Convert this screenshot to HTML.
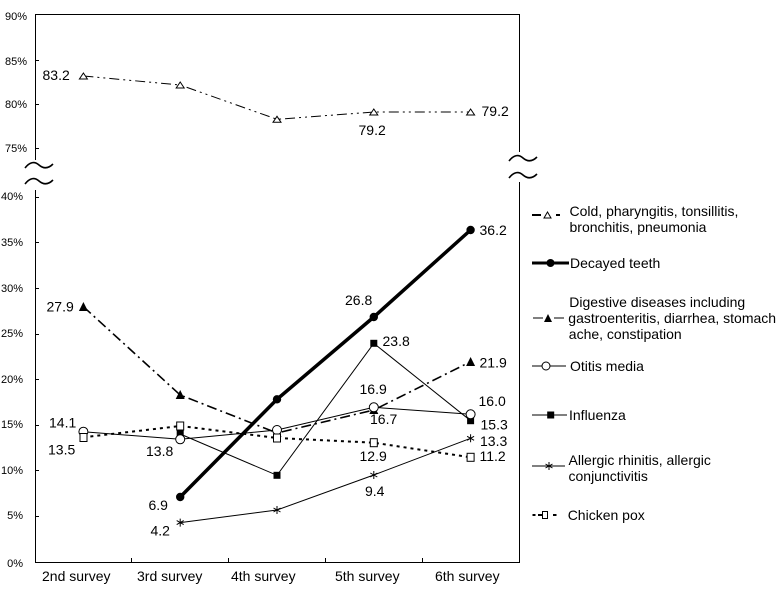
<!DOCTYPE html>
<html><head><meta charset="utf-8"><style>
html,body{margin:0;padding:0;background:#fff;}
svg{display:block;}
text{font-family:"Liberation Sans",Arial,sans-serif;fill:#000;}
</style></head><body>
<svg width="779" height="589" viewBox="0 0 779 589" xmlns="http://www.w3.org/2000/svg">
<rect width="779" height="589" fill="#fff"/>
<!-- frame -->
<g stroke="#000" stroke-width="1" fill="none" shape-rendering="crispEdges">
<line x1="35" y1="14.5" x2="519" y2="14.5"/>
<line x1="35.5" y1="14" x2="35.5" y2="160"/>
<line x1="35.5" y1="190" x2="35.5" y2="562"/>
<line x1="519.5" y1="14" x2="519.5" y2="152"/>
<line x1="519.5" y1="182" x2="519.5" y2="562"/>
<line x1="35" y1="562.5" x2="520" y2="562.5"/>
<!-- y ticks upper -->
<line x1="35" y1="60.5" x2="39" y2="60.5"/>
<line x1="35" y1="104.5" x2="39" y2="104.5"/>
<line x1="35" y1="148.5" x2="39" y2="148.5"/>
<!-- y ticks lower -->
<line x1="35" y1="197.5" x2="39" y2="197.5"/>
<line x1="35" y1="242.5" x2="39" y2="242.5"/>
<line x1="35" y1="288.5" x2="39" y2="288.5"/>
<line x1="35" y1="334.5" x2="39" y2="334.5"/>
<line x1="35" y1="379.5" x2="39" y2="379.5"/>
<line x1="35" y1="425.5" x2="39" y2="425.5"/>
<line x1="35" y1="470.5" x2="39" y2="470.5"/>
<line x1="35" y1="516.5" x2="39" y2="516.5"/>
<!-- x ticks -->
<line x1="131.5" y1="558" x2="131.5" y2="562"/>
<line x1="228.5" y1="558" x2="228.5" y2="562"/>
<line x1="325.5" y1="558" x2="325.5" y2="562"/>
<line x1="422.5" y1="558" x2="422.5" y2="562"/>
</g>
<!-- break marks -->
<g stroke="#000" stroke-width="1.6" fill="none">
<path d="M25,168 Q32,159 39,165 T53,164"/>
<path d="M25,184 Q32,175 39,181 T53,180"/>
<path d="M509,161 Q516,152 523,158 T537,157"/>
<path d="M509,178 Q516,169 523,175 T537,174"/>
</g>
<!-- y labels -->
<g font-size="11" text-anchor="end" dominant-baseline="central">
<text x="27" y="17">90%</text>
<text x="27" y="62">85%</text>
<text x="27" y="105">80%</text>
<text x="27" y="149">75%</text>
<text x="23" y="197">40%</text>
<text x="23" y="243">35%</text>
<text x="23" y="289">30%</text>
<text x="23" y="334">25%</text>
<text x="23" y="380">20%</text>
<text x="23" y="425">15%</text>
<text x="23" y="471">10%</text>
<text x="23" y="516">5%</text>
<text x="23" y="564">0%</text>
</g>
<!-- x labels -->
<g font-size="14" dominant-baseline="central">
<text x="42" y="576">2nd survey</text>
<text x="137" y="576">3rd survey</text>
<text x="231" y="576">4th survey</text>
<text x="335" y="576">5th survey</text>
<text x="435" y="576">6th survey</text>
</g>

<!-- Cold -->
<polyline points="83.4,76 180.2,85 277,119.3 373.8,112 470.6,112" fill="none" stroke="#000" stroke-width="1" stroke-dasharray="10 4 2 4 2 4"/>
<g fill="#fff" stroke="#000" stroke-width="1">
<path d="M79.4,79 L87.4,79 L83.4,73 Z"/>
<path d="M176.2,88 L184.2,88 L180.2,82 Z"/>
<path d="M273,122.3 L281,122.3 L277,116.3 Z"/>
<path d="M369.8,115 L377.8,115 L373.8,109 Z"/>
<path d="M466.6,115 L474.6,115 L470.6,109 Z"/>
</g>

<!-- Decayed teeth -->
<polyline points="180.2,497 277,399.3 373.8,317 470.6,230" fill="none" stroke="#000" stroke-width="3.5"/>
<g fill="#000">
<circle cx="180.2" cy="497" r="4.2"/>
<circle cx="277" cy="399.3" r="4.2"/>
<circle cx="373.8" cy="317" r="4.2"/>
<circle cx="470.6" cy="230" r="4.2"/>
</g>

<!-- Digestive -->
<polyline points="83.4,306.7 180.2,395 277,433 373.8,410 470.6,361.7" fill="none" stroke="#000" stroke-width="1.6" stroke-dasharray="10 4 2 4"/>
<g fill="#000">
<path d="M78.9,311 L87.9,311 L83.4,302 Z"/>
<path d="M175.7,399 L184.7,399 L180.2,390 Z"/>
<path d="M272.5,437 L281.5,437 L277,428 Z"/>
<path d="M369.3,414 L378.3,414 L373.8,405 Z"/>
<path d="M466.1,366 L475.1,366 L470.6,357 Z"/>
</g>

<!-- Influenza -->
<polyline points="180.2,434 277,475.3 373.8,343.3 470.6,420.7" fill="none" stroke="#000" stroke-width="1"/>
<g fill="#000">
<rect x="176.7" y="430.5" width="7" height="7"/>
<rect x="273.5" y="471.8" width="7" height="7"/>
<rect x="370.3" y="339.8" width="7" height="7"/>
<rect x="467.1" y="417.2" width="7" height="7"/>
</g>

<!-- Otitis -->
<polyline points="83.4,431.7 180.2,439.3 277,430 373.8,407.3 470.6,414.3" fill="none" stroke="#000" stroke-width="1"/>
<g fill="#fff" stroke="#000" stroke-width="1">
<circle cx="83.4" cy="431.7" r="4.5"/>
<circle cx="180.2" cy="439.3" r="4.5"/>
<circle cx="277" cy="430" r="4.5"/>
<circle cx="373.8" cy="407.3" r="4.5"/>
<circle cx="470.6" cy="414.3" r="4.5"/>
</g>

<!-- Allergic -->
<polyline points="180.2,522.6 277,510 373.8,475 470.6,438.3" fill="none" stroke="#000" stroke-width="1"/>
<g stroke="#000" stroke-width="1">
<path d="M180.2,518.6 V526.6 M176.7,520.6 L183.7,524.6 M176.7,524.6 L183.7,520.6"/>
<path d="M277,506 V514 M273.5,508 L280.5,512 M273.5,512 L280.5,508"/>
<path d="M373.8,471 V479 M370.3,473 L377.3,477 M370.3,477 L377.3,473"/>
<path d="M470.6,434.3 V442.3 M467.1,436.3 L474.1,440.3 M467.1,440.3 L474.1,436.3"/>
</g>

<!-- Chicken pox -->
<polyline points="83.4,437.3 180.2,426 277,438 373.8,442.7 470.6,457.3" fill="none" stroke="#000" stroke-width="2" stroke-dasharray="3 4"/>
<g fill="#fff" stroke="#000" stroke-width="1">
<rect x="80" y="433.5" width="7" height="8"/>
<rect x="176.7" y="422" width="7" height="8"/>
<rect x="273.5" y="434" width="7" height="8"/>
<rect x="370.3" y="438.7" width="7" height="8"/>
<rect x="467.1" y="453.3" width="7" height="8"/>
</g>

<!-- data labels -->
<g font-size="14" dominant-baseline="central">
<text x="42.5" y="75">83.2</text>
<text x="358.5" y="130">79.2</text>
<text x="481.5" y="111">79.2</text>
<text x="479.5" y="230">36.2</text>
<text x="345" y="300">26.8</text>
<text x="46.5" y="306.7">27.9</text>
<text x="49" y="422.7">14.1</text>
<text x="48" y="449.3">13.5</text>
<text x="146" y="451">13.8</text>
<text x="148.5" y="505">6.9</text>
<text x="150.5" y="530.3">4.2</text>
<text x="365" y="491">9.4</text>
<text x="382.5" y="341">23.8</text>
<text x="479.5" y="362.7">21.9</text>
<text x="359.5" y="389">16.9</text>
<text x="370" y="419">16.7</text>
<text x="478.5" y="401">16.0</text>
<text x="480.5" y="424.3">15.3</text>
<text x="480" y="441">13.3</text>
<text x="359.5" y="456">12.9</text>
<text x="479.5" y="456">11.2</text>
</g>

<!-- legend -->
<g stroke="#000" fill="none">
<line x1="532" y1="215" x2="541" y2="215" stroke-width="2"/>
<path d="M544,218 L551,218 L547.5,212 Z" fill="#fff" stroke-width="1"/>
<line x1="556" y1="215" x2="560" y2="215" stroke-width="2"/>

<line x1="532" y1="263" x2="569" y2="263" stroke-width="3"/>
<circle cx="550.5" cy="263" r="4" fill="#000" stroke="none"/>

<line x1="533" y1="318" x2="543" y2="318" stroke-width="1"/>
<path d="M544,322 L552,322 L548,314 Z" fill="#000" stroke="none"/>
<line x1="554" y1="318" x2="564" y2="318" stroke-width="1"/>

<line x1="532" y1="366" x2="566" y2="366" stroke-width="1"/>
<circle cx="546" cy="366" r="4" fill="#fff" stroke-width="1"/>

<line x1="532" y1="415" x2="567" y2="415" stroke-width="1"/>
<rect x="547.2" y="411.5" width="7" height="7" fill="#000" stroke="none"/>

<line x1="532" y1="466" x2="565" y2="466" stroke-width="1"/>
<path d="M549,462 V470 M545.5,464 L552.5,468 M545.5,468 L552.5,464" stroke-width="1"/>

<line x1="532.5" y1="515" x2="535.5" y2="515" stroke-width="2"/>
<line x1="538" y1="515" x2="542" y2="515" stroke-width="2"/>
<rect x="542.5" y="511.5" width="5" height="7" fill="#fff" stroke-width="1"/>
<line x1="553" y1="515" x2="556.5" y2="515" stroke-width="2"/>
</g>
<g font-size="14" dominant-baseline="central">
<text x="569.5" y="211">Cold, pharyngitis, tonsillitis,</text>
<text x="569.5" y="227">bronchitis, pneumonia</text>
<text x="570" y="263">Decayed teeth</text>
<text x="569.3" y="302">Digestive diseases including</text>
<text x="568.3" y="318">gastroenteritis, diarrhea, stomach</text>
<text x="568.8" y="334">ache, constipation</text>
<text x="570" y="366">Otitis media</text>
<text x="569" y="415">Influenza</text>
<text x="568.5" y="460">Allergic rhinitis, allergic</text>
<text x="568.5" y="476">conjunctivitis</text>
<text x="567.7" y="515">Chicken pox</text>
</g>
</svg>
</body></html>
